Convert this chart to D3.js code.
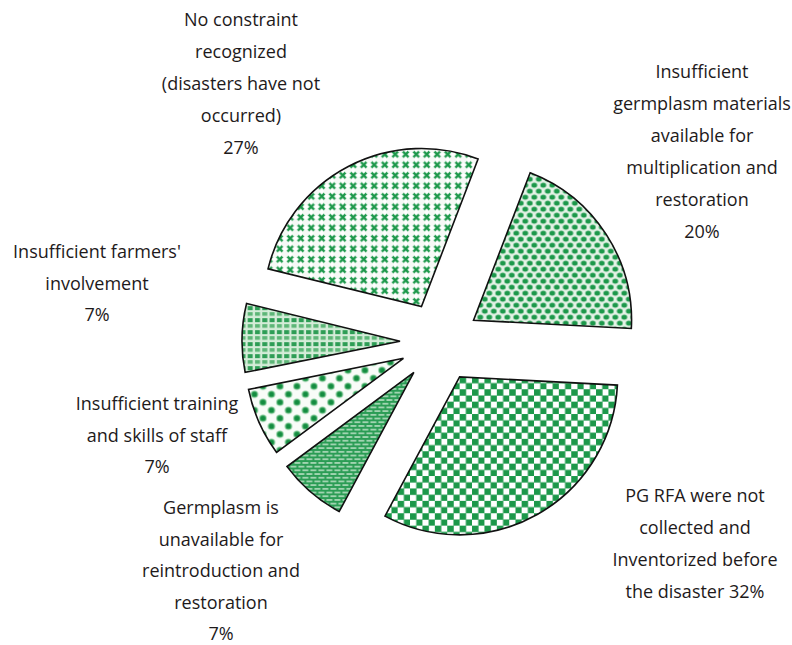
<!DOCTYPE html>
<html>
<head>
<meta charset="utf-8">
<script src="https://cdn.jsdelivr.net/npm/d3@7"></script>
<style>
  html, body { margin: 0; padding: 0; background: #ffffff; }
  svg { display: block; }
</style>
</head>
<body>
<svg id="chart" width="792" height="645"></svg>
<script>
// ---- data ----
const categories = [
  "Insufficient germplasm materials available for multiplication and restoration",
  "PG RFA were not collected and Inventorized before the disaster",
  "Germplasm is unavailable for reintroduction and restoration",
  "Insufficient training and skills of staff",
  "Insufficient farmers' involvement",
  "No constraint recognized (disasters have not occurred)"
];
const values = [20, 32, 7, 7, 7, 27];
const labelLines = [
  ["Insufficient", "germplasm materials", "available for", "multiplication and", "restoration", "20%"],
  ["PG RFA were not", "collected and", "Inventorized before", "the disaster 32%"],
  ["Germplasm is", "unavailable for", "reintroduction and", "restoration", "7%"],
  ["Insufficient training", "and skills of staff", "7%"],
  ["Insufficient farmers'", "involvement", "7%"],
  ["No constraint", "recognized", "(disasters have not", "occurred)", "27%"]
];
const patternIds = ["pDots", "pCheck", "pBrick", "pFlower", "pTiles", "pCross"];

// ---- layout ----
const W = 792, H = 645;
const cx = 440, cy = 342, R = 158, explode = 40;
const startDeg = 21;
const labelAnchors = [
  {x: 702, y: 78,  gap: 32},
  {x: 695, y: 502, gap: 32},
  {x: 221, y: 514, gap: 31.6},
  {x: 157, y: 410, gap: 31.5},
  {x: 97,  y: 258, gap: 31.5},
  {x: 241, y: 26,  gap: 32}
];
const green = "#1c984a";

const svg = d3.select("#chart");
const defs = svg.append("defs");

function pattern(id, w, h, bg) {
  const p = defs.append("pattern").attr("id", id).attr("patternUnits", "userSpaceOnUse")
    .attr("width", w).attr("height", h);
  p.append("rect").attr("width", w).attr("height", h).attr("fill", bg);
  return p;
}

// staggered green dots on pale background
(function(){
  const w = 9, h = 12;
  const p = pattern("pDots", w, h, "#e4f2e6");
  [[2.25, 3], [6.75, 9], [11.25, 3], [-2.25, 9]].forEach(([x, y]) => {
    p.append("ellipse").attr("cx", x).attr("cy", y).attr("rx", 2.9).attr("ry", 2.5).attr("fill", green);
  });
})();

// checkerboard
(function(){
  const s = 12.4;
  const p = pattern("pCheck", s, s, "#ffffff");
  p.append("rect").attr("x", 0).attr("y", 0).attr("width", 6.5).attr("height", 6.5).attr("fill", green);
  p.append("rect").attr("x", s / 2).attr("y", s / 2).attr("width", 6.5).attr("height", 6.5).attr("fill", green);
})();

// bricks (pale dashes on green)
(function(){
  const w = 8, h = 7.4;
  const p = pattern("pBrick", w, h, "#2a9c54");
  [[0.5, 1.2], [4.5, 4.9], [-3.5, 4.9]].forEach(([x, y]) => {
    p.append("rect").attr("x", x).attr("y", y).attr("width", 6).attr("height", 1.3).attr("fill", "#d3ecd8");
  });
})();

// flower dots on white
(function(){
  const w = 17, h = 16;
  const p = pattern("pFlower", w, h, "#f8fcf8");
  [[4, 4], [12.5, 12], [21, 4], [-4.5, 12]].forEach(([x, y]) => {
    p.append("circle").attr("cx", x).attr("cy", y).attr("r", 3.6).attr("fill", "#5cb978");
    p.append("circle").attr("cx", x).attr("cy", y).attr("r", 2.5).attr("fill", "#138c40");
  });
})();

// small tiles on pale green
(function(){
  const w = 7.3, h = 12;
  const p = pattern("pTiles", w, h, "#d4ecd8");
  p.append("rect").attr("x", 1).attr("y", 1).attr("width", 5).attr("height", 4).attr("fill", "#2d9d55");
  p.append("rect").attr("x", 1).attr("y", 7).attr("width", 5).attr("height", 3.6).attr("fill", "#5db677");
})();

// diagonal cross with white dots
(function(){
  const s = 10.5;
  const p = pattern("pCross", s, s, "#ffffff");
  p.append("path").attr("d", `M0,0L${s},${s}M${s},0L0,${s}`).attr("stroke", green).attr("stroke-width", 2.4);
  [[0, 0], [s, 0], [0, s], [s, s]].forEach(([x, y]) => {
    p.append("circle").attr("cx", x).attr("cy", y).attr("r", 3.4).attr("fill", "#f6f9f6");
  });
})();

// ---- pie ----
const toRad = d => d * Math.PI / 180;
const pie = d3.pie().sort(null).value(d => d)
  .startAngle(toRad(startDeg)).endAngle(toRad(startDeg + 360));
const arcs = pie(values);
const arcGen = d3.arc().innerRadius(0).outerRadius(R);

const g = svg.append("g").attr("transform", `translate(${cx},${cy})`);
g.selectAll("path.slice")
  .data(arcs)
  .join("path")
  .attr("class", "slice")
  .attr("transform", d => {
    const mid = (d.startAngle + d.endAngle) / 2;
    return `translate(${explode * Math.sin(mid)},${-explode * Math.cos(mid)})`;
  })
  .attr("d", arcGen)
  .attr("fill", (d, i) => `url(#${patternIds[i]})`)
  .attr("stroke", "#111")
  .attr("stroke-width", 1.6)
  .attr("stroke-linejoin", "miter");

// ---- labels ----
const labels = svg.append("g")
  .attr("font-family", "'Open Sans', 'Noto Sans', sans-serif")
  .attr("font-size", 18)
  .attr("fill", "#1e1a1b")
  .attr("text-anchor", "middle");

labelLines.forEach((lines, i) => {
  const a = labelAnchors[i];
  lines.forEach((ln, j) => {
    labels.append("text")
      .attr("x", a.x)
      .attr("y", a.y + j * a.gap)
      .text(ln);
  });
});
</script>
</body>
</html>
